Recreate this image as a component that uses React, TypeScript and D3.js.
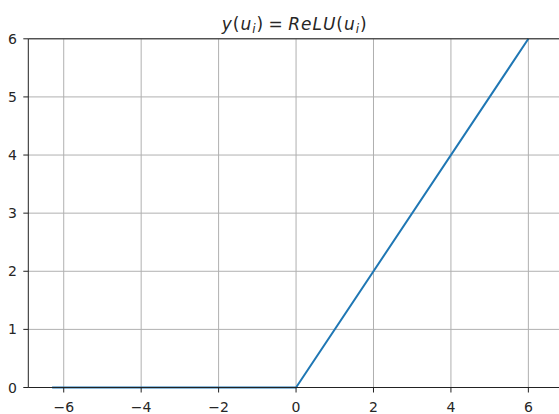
import * as d3 from "d3";

// ReLU sampled at its breakpoints
const xValues = [-6.3, 0, 6];
const yValues = [0, 0, 6];
const xTicks = [-6, -4, -2, 0, 2, 4, 6];
const yTicks = [0, 1, 2, 3, 4, 5, 6];

const width = 559;
const height = 414;
const margin = { left: 28.3, top: 38.8, bottom: 26.5 };

const x = d3
  .scaleLinear()
  .domain([-6.915, 6.615])
  .range([margin.left, margin.left + 13.53 * 38.72]);
const y = d3
  .scaleLinear()
  .domain([0, 6])
  .range([height - margin.bottom, margin.top]);

const line = d3
  .line<number>()
  .x((d) => x(d))
  .y((_, i) => y(yValues[i]));

const font = "'DejaVu Sans', sans-serif";

export default function App() {
  const [x0] = x.range();
  const [y0, y1] = y.range();
  return (
    <svg
      width={width}
      height={height}
      style={{ position: "absolute", left: 0, top: 0, background: "white" }}
    >
      <g stroke="#b0b0b0" strokeWidth={1}>
        {xTicks.map((t) => (
          <line key={"gx" + t} x1={x(t)} x2={x(t)} y1={y0} y2={y1} />
        ))}
        {yTicks.map((t) => (
          <line key={"gy" + t} x1={x0} x2={width + 10} y1={y(t)} y2={y(t)} />
        ))}
      </g>
      <path
        d={line(xValues) ?? ""}
        fill="none"
        stroke="#1f77b4"
        strokeWidth={2}
        strokeLinejoin="round"
      />
      <g stroke="#222" strokeWidth={1}>
        <line x1={x0} x2={x0} y1={y0} y2={y1} />
        <line x1={x0} x2={width + 10} y1={y0} y2={y0} />
        <line x1={x0} x2={width + 10} y1={y1} y2={y1} />
        {xTicks.map((t) => (
          <line key={"tx" + t} x1={x(t)} x2={x(t)} y1={y0} y2={y0 + 5} />
        ))}
        {yTicks.map((t) => (
          <line key={"ty" + t} x1={x0 - 5} x2={x0} y1={y(t)} y2={y(t)} />
        ))}
      </g>
      <g fontFamily={font} fontSize={14} fill="#262626">
        {xTicks.map((t) => (
          <text key={"lx" + t} x={x(t)} y={y0 + 24} textAnchor="middle">
            {t < 0 ? "\u2212" + Math.abs(t) : t}
          </text>
        ))}
        {yTicks.map((t) => (
          <text
            key={"ly" + t}
            x={x0 - 11.5}
            y={y(t)}
            dy="0.36em"
            textAnchor="end"
          >
            {t}
          </text>
        ))}
      </g>
      <text
        x={221.7}
        y={29.5}
        textAnchor="start"
        fontFamily={font}
        fontSize={17}
        fill="#262626"
        textLength={145}
        lengthAdjust="spacing"
      >
        <tspan fontStyle="italic">y</tspan>
        <tspan>(</tspan>
        <tspan fontStyle="italic">u</tspan>
        <tspan fontStyle="italic" fontSize={12} dy={3}>i</tspan>
        <tspan dy={-3}>{")\u2009=\u2009"}</tspan>
        <tspan fontStyle="italic">ReLU</tspan>
        <tspan>(</tspan>
        <tspan fontStyle="italic">u</tspan>
        <tspan fontStyle="italic" fontSize={12} dy={3}>i</tspan>
        <tspan dy={-3}>)</tspan>
      </text>
    </svg>
  );
}
